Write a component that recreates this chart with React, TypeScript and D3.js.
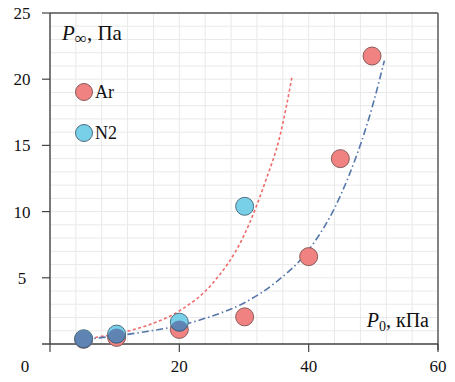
import React from "react";
import * as d3 from "d3";

const xTicks = [20, 40, 60];
const yTicks = [5, 10, 15, 20, 25];

const arX = [5.2, 10.3, 20, 30.1, 40, 44.9, 49.8];
const arY = [0.35, 0.5, 1.1, 2.05, 6.6, 14.0, 21.75];

const n2X = [5.2, 10.3, 20, 30.1];
const n2Y = [0.4, 0.75, 1.65, 10.4];

// trend curves
const redFitX = [5.3, 10, 15, 20, 25, 30, 33.4, 35.5, 37.4];
const redFitY = [0.38, 0.75, 1.4, 2.5, 4.5, 8.2, 12.4, 15.6, 20.1];

const blueFitX = [5.3, 10, 15, 20, 25, 30, 35, 40, 45, 50, 51.7];
const blueFitY = [0.35, 0.6, 0.95, 1.4, 2.1, 3.1, 4.7, 7.1, 11.3, 18.2, 21.4];

const W = 455;
const H = 382;
const L = 50;
const R = 438;
const T = 13;
const B = 344;

export default function App() {
  const x = d3.scaleLinear().domain([0, 60]).range([L, R]);
  const y = d3.scaleLinear().domain([0, 25]).range([B, T]);

  const vGrid = d3.range(0, 61, 4);
  const hGrid = d3.range(0, 26, 1);

  const redPath = d3
    .line<number>()
    .x((d) => x(d))
    .y((_, i) => y(redFitY[i]))
    .curve(d3.curveMonotoneX)(redFitX);
  const bluePath = d3
    .line<number>()
    .x((d) => x(d))
    .y((_, i) => y(blueFitY[i]))
    .curve(d3.curveMonotoneX)(blueFitX);

  const font = "'Liberation Serif', 'Times New Roman', serif";
  const rr = 9;

  return (
    <svg
      width={W}
      height={H}
      style={{ position: "absolute", left: 0, top: 0, background: "#fff" }}
      fontFamily={font}
    >
      <defs>
        <clipPath id="arClip">
          {arX.map((v, i) => (
            <circle key={"c" + i} cx={x(v)} cy={y(arY[i])} r={rr} />
          ))}
        </clipPath>
      </defs>
      {/* grid */}
      {vGrid.map((g) => (
        <line key={"v" + g} x1={x(g)} x2={x(g)} y1={T} y2={B} stroke="#e9e9e9" strokeWidth={1} />
      ))}
      {hGrid.map((g) => (
        <line key={"h" + g} x1={L} x2={R} y1={y(g)} y2={y(g)} stroke="#e9e9e9" strokeWidth={1} />
      ))}

      {/* frame */}
      <line x1={L} x2={R} y1={T} y2={T} stroke="#555" strokeWidth={1.3} />
      <line x1={R} x2={R} y1={T} y2={B + 6} stroke="#666" strokeWidth={1.6} />
      <line x1={L} x2={L} y1={T} y2={B} stroke="#444" strokeWidth={1.4} />
      <line x1={L - 8} x2={R} y1={B} y2={B} stroke="#444" strokeWidth={1.4} />

      {/* ticks */}
      {yTicks.map((t) => (
        <line key={"yt" + t} x1={L - 8} x2={L} y1={y(t)} y2={y(t)} stroke="#444" strokeWidth={1.2} />
      ))}
      {[0, ...xTicks].map((t) => (
        <line key={"xt" + t} x1={x(t)} x2={x(t)} y1={B} y2={B + 8} stroke="#444" strokeWidth={1.2} />
      ))}

      {/* tick labels */}
      {yTicks.map((t) => (
        <text key={"yl" + t} x={22} y={y(t)} dy="0.35em" textAnchor="middle" fontSize={17} fill="#111">
          {t}
        </text>
      ))}
      <text x={25} y={366.5} dy="0.35em" textAnchor="middle" fontSize={17} fill="#111">
        0
      </text>
      {xTicks.map((t) => (
        <text key={"xl" + t} x={x(t)} y={366.5} dy="0.35em" textAnchor="middle" fontSize={17} fill="#111">
          {t}
        </text>
      ))}

      {/* fit curves */}
      <path d={redPath || ""} fill="none" stroke="#f06a6a" strokeWidth={1.6} strokeDasharray="3,2.5" />
      <path d={bluePath || ""} fill="none" stroke="#5577aa" strokeWidth={1.6} strokeDasharray="7,3,1.5,3" />

      {/* markers */}
      {arX.map((v, i) => (
        <circle key={"ar" + i} cx={x(v)} cy={y(arY[i])} r={rr} fill="#f08282" stroke="#8a5a5a" strokeWidth={1} />
      ))}
      {n2X.map((v, i) => (
        <circle
          key={"n2" + i}
          cx={x(v)}
          cy={y(n2Y[i])}
          r={rr}
          fill="#78cfe8"
          stroke="#4f6f80"
          strokeWidth={1}
        />
      ))}
      <g clipPath="url(#arClip)">
        {n2X.map((v, i) => (
          <circle
            key={"n2o" + i}
            cx={x(v)}
            cy={y(n2Y[i])}
            r={rr}
            fill="#5f84b4"
            stroke="#3f5f80"
            strokeWidth={1}
          />
        ))}
      </g>

      {/* legend */}
      <circle cx={84} cy={92} r={8.5} fill="#f08282" stroke="#8a5a5a" strokeWidth={1} />
      <text x={95} y={92} dy="0.35em" fontSize={18} fill="#111">
        Ar
      </text>
      <circle cx={84} cy={133} r={8.5} fill="#78cfe8" stroke="#4f6f80" strokeWidth={1} />
      <text x={95} y={133} dy="0.35em" fontSize={18} fill="#111">
        N2
      </text>

      {/* axis titles */}
      <text x={62} y={40} fontSize={21} fill="#111">
        <tspan fontStyle="italic">P</tspan>
        <tspan dy={4} fontSize={17}>∞</tspan>
        <tspan dy={-4}>, Па</tspan>
      </text>
      <text x={429} y={327} textAnchor="end" fontSize={20} fill="#111">
        <tspan fontStyle="italic">P</tspan>
        <tspan dy={4} fontSize={14}>0</tspan>
        <tspan dy={-4}>, кПа</tspan>
      </text>
    </svg>
  );
}
